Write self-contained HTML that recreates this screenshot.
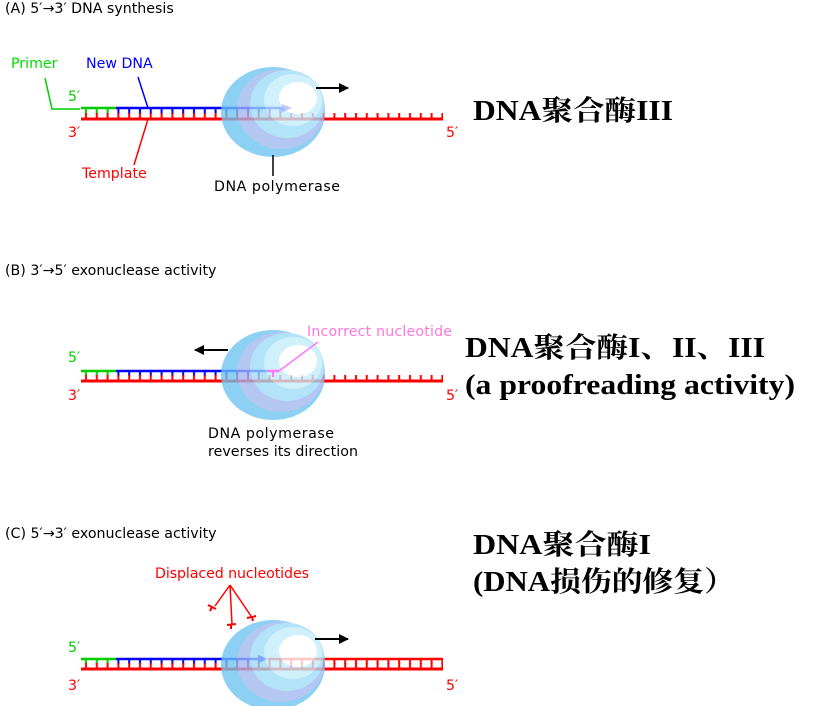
<!DOCTYPE html>
<html><head><meta charset="utf-8"><style>
html,body{margin:0;padding:0;background:#fff;}
svg{display:block;}
.s{font-family:"DejaVu Sans","Liberation Sans",sans-serif;font-size:14.2px;}
.cn{font-family:"Liberation Serif","Noto Serif CJK SC",serif;font-size:28px;font-weight:bold;}
</style></head><body>
<svg width="816" height="706" viewBox="0 0 816 706" xmlns="http://www.w3.org/2000/svg">
<defs>
<pattern id="rr" x="81" y="0" width="10.8" height="20" patternUnits="userSpaceOnUse"><rect x="4" y="0" width="2" height="20" fill="#f00"/></pattern>
<pattern id="rg" x="81" y="0" width="10.8" height="20" patternUnits="userSpaceOnUse"><rect x="4" y="0" width="2" height="20" fill="#0c0"/></pattern>
<pattern id="rb" x="81" y="0" width="10.8" height="20" patternUnits="userSpaceOnUse"><rect x="4" y="0" width="2" height="20" fill="#00f"/></pattern>
<g id="blob" opacity="0.78">
<ellipse cx="0" cy="0" rx="52" ry="45" fill="#6cc4f0"/>
<ellipse cx="8" cy="-3" rx="44" ry="40" fill="#a0b8f0"/>
<ellipse cx="14" cy="-8" rx="37" ry="34" fill="#9edcf7"/>
<ellipse cx="20" cy="-12" rx="29" ry="26" fill="#c4eefa"/>
<ellipse cx="25" cy="-14" rx="19" ry="16" fill="#fff"/>
</g>
<marker id="ah" viewBox="0 0 10 10" refX="9" refY="5" markerWidth="5" markerHeight="5" orient="auto"><path d="M0,0L10,5L0,10z" fill="#000"/></marker>
</defs>

<!-- Panel A -->
<text class="s" x="5" y="13" font-size="13.5">(A) 5′→3′ DNA synthesis</text>
<rect x="81" y="108" width="35" height="6" fill="url(#rg)"/>
<rect x="116" y="108" width="170" height="6" fill="url(#rb)"/>
<rect x="81" y="113" width="362" height="6" fill="url(#rr)"/>
<line x1="81" y1="108" x2="116" y2="108" stroke="#0c0" stroke-width="2.5"/>
<line x1="116" y1="108" x2="284" y2="108" stroke="#00f" stroke-width="2.5"/>
<path d="M282,104L292,108L282,112z" fill="#00f"/>
<line x1="81" y1="119" x2="443" y2="119" stroke="#f00" stroke-width="3"/>
<use href="#blob" x="273" y="112"/>
<line x1="316" y1="88" x2="348" y2="88" stroke="#000" stroke-width="2" marker-end="url(#ah)"/>
<polyline points="45,78 52,109 80,109" fill="none" stroke="#0c0" stroke-width="1.5"/>
<line x1="138" y1="77" x2="148" y2="108" stroke="#00f" stroke-width="1.5"/>
<line x1="148" y1="119" x2="134" y2="165" stroke="#f00" stroke-width="1.5"/>
<line x1="273" y1="155" x2="273" y2="176" stroke="#000" stroke-width="1.5"/>
<text class="s" x="11" y="68" fill="#0d0">Primer</text>
<text class="s" x="86" y="68" fill="#00f">New DNA</text>
<text class="s" x="68" y="101" fill="#0c0">5′</text>
<text class="s" x="68" y="137" fill="#f00">3′</text>
<text class="s" x="446" y="137" fill="#f00">5′</text>
<text class="s" x="82" y="178" fill="#f00">Template</text>
<text class="s" x="214" y="191" textLength="126">DNA polymerase</text>
<text class="cn" x="473" y="120" textLength="200" lengthAdjust="spacingAndGlyphs">DNA聚合酶III</text>

<!-- Panel B -->
<text class="s" x="5" y="275" font-size="13.5">(B) 3′→5′ exonuclease activity</text>
<rect x="81" y="371" width="35" height="5" fill="url(#rg)"/>
<rect x="116" y="371" width="152" height="5" fill="url(#rb)"/>
<rect x="81" y="375" width="362" height="6" fill="url(#rr)"/>
<line x1="81" y1="371" x2="116" y2="371" stroke="#0c0" stroke-width="2.5"/>
<line x1="116" y1="371" x2="268" y2="371" stroke="#00f" stroke-width="2.5"/>
<line x1="81" y1="381" x2="443" y2="381" stroke="#f00" stroke-width="3"/>
<use href="#blob" x="273" y="375"/>
<line x1="268" y1="371" x2="279" y2="371" stroke="#f7f" stroke-width="2.5"/>
<line x1="273" y1="371" x2="273" y2="377" stroke="#f7f" stroke-width="2"/>
<line x1="279" y1="371" x2="318" y2="342" stroke="#f7f" stroke-width="1.5"/>
<line x1="228" y1="350" x2="195" y2="350" stroke="#000" stroke-width="2" marker-end="url(#ah)"/>
<text class="s" x="307" y="336" fill="#f7d" textLength="145">Incorrect nucleotide</text>
<text class="s" x="68" y="362" fill="#0c0">5′</text>
<text class="s" x="68" y="400" fill="#f00">3′</text>
<text class="s" x="446" y="400" fill="#f00">5′</text>
<text class="s" x="208" y="438" textLength="126">DNA polymerase</text>
<text class="s" x="208" y="456" textLength="150">reverses its direction</text>
<text class="cn" x="465" y="357" textLength="300" lengthAdjust="spacingAndGlyphs">DNA聚合酶I、II、III</text>
<text class="cn" x="465" y="394" textLength="330" lengthAdjust="spacingAndGlyphs">(a proofreading activity)</text>

<!-- Panel C -->
<text class="s" x="5" y="538" font-size="13.5">(C) 5′→3′ exonuclease activity</text>
<rect x="81" y="659" width="35" height="5" fill="url(#rg)"/>
<rect x="116" y="659" width="150" height="5" fill="url(#rb)"/>
<rect x="266" y="659" width="177" height="5" fill="url(#rr)"/>
<rect x="81" y="663" width="362" height="6" fill="url(#rr)"/>
<line x1="81" y1="659" x2="116" y2="659" stroke="#0c0" stroke-width="2.5"/>
<line x1="116" y1="659" x2="262" y2="659" stroke="#00f" stroke-width="2.5"/>
<path d="M258,655L268,659L258,663z" fill="#00f"/>
<line x1="268" y1="659" x2="443" y2="659" stroke="#f00" stroke-width="2.5"/>
<line x1="81" y1="669" x2="443" y2="669" stroke="#f00" stroke-width="3"/>
<use href="#blob" x="273" y="665"/>
<line x1="315" y1="639" x2="348" y2="639" stroke="#000" stroke-width="2" marker-end="url(#ah)"/>
<g stroke="#f00" stroke-width="1.5" fill="none">
<line x1="230" y1="585" x2="215" y2="606"/>
<line x1="230" y1="585" x2="232" y2="624"/>
<line x1="230" y1="585" x2="251" y2="616"/>
<path d="M208,605l8,4M212,607l-2,4" stroke-width="2"/>
<path d="M227,625l9,-1M231,625l0,4" stroke-width="2"/>
<path d="M247,618l9,-2M252,617l1,4" stroke-width="2"/>
</g>
<text class="s" x="155" y="578" fill="#f00" textLength="154">Displaced nucleotides</text>
<text class="s" x="68" y="652" fill="#0c0">5′</text>
<text class="s" x="68" y="690" fill="#f00">3′</text>
<text class="s" x="446" y="690" fill="#f00">5′</text>
<text class="cn" x="473" y="554" textLength="178" lengthAdjust="spacingAndGlyphs">DNA聚合酶I</text>
<text class="cn" x="473" y="591" textLength="262" lengthAdjust="spacingAndGlyphs">(DNA损伤的修复）</text>
</svg>
</body></html>
